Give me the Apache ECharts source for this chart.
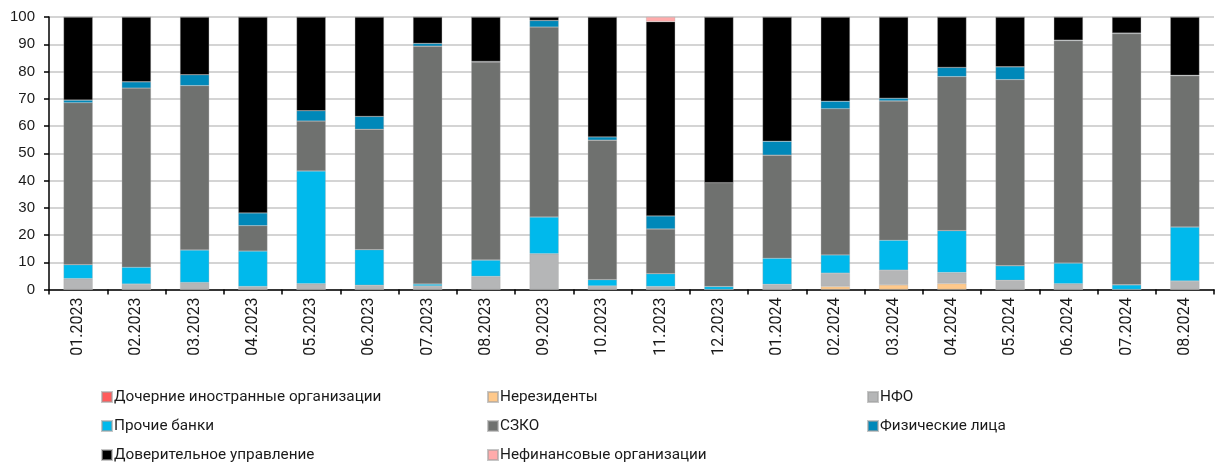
<!DOCTYPE html>
<html>
<head>
<meta charset="utf-8">
<script src="https://cdn.jsdelivr.net/npm/echarts@6/dist/echarts.min.js"></script>
<style>
  html, body { margin: 0; padding: 0; background: #fff; }
  #chart { width: 1216px; height: 463px; }
</style>
</head>
<body>
<div id="chart"></div>
<script>
// Monthly structure of holders, % of total
const categories = ['01.2023','02.2023','03.2023','04.2023','05.2023','06.2023','07.2023','08.2023','09.2023','10.2023','11.2023','12.2023',
                    '01.2024','02.2024','03.2024','04.2024','05.2024','06.2024','07.2024','08.2024'];

const subsidiariesForeign = [0,0,0,0,0,0,0,0,0,0,0,0,0,0,0,0,0,0,0,0];
const nonResidents        = [0,0,0,0,0,0,0,0,0,0,0,0,0,1.1,1.7,2.2,0,0,0,0];
const nfo                 = [4.0,2.0,2.6,1.1,2.1,1.6,1.3,4.8,13.1,1.3,1.1,0,1.9,4.9,5.4,4.0,3.4,2.1,0,3.1];
const otherBanks          = [5.1,6.2,11.9,13.0,41.4,13.0,0.7,6.0,13.5,2.3,4.7,1.1,9.6,6.7,11.0,15.4,5.3,7.6,1.7,19.8];
const szko                = [59.4,65.7,60.3,9.3,18.3,44.2,87.3,72.7,69.7,51.2,16.4,38.1,37.8,53.6,51.1,56.5,68.3,81.6,92.2,55.5];
const individuals         = [1.0,2.3,4.0,4.7,3.8,4.7,1.0,0.2,2.4,1.2,4.8,0,5.1,2.8,1.0,3.4,4.7,0.2,0.2,0.2];
const trustManagement     = [30.5,23.8,21.2,71.9,34.4,36.5,9.7,16.3,1.3,44.0,71.3,60.8,45.6,30.9,29.8,18.5,18.3,8.5,5.9,21.4];
const nonFinancial        = [0,0,0,0,0,0,0,0,0,0,1.7,0,0,0,0,0,0,0,0,0];

const yTicks = [0,10,20,30,40,50,60,70,80,90,100];

const seriesDefs = [
  { name: 'Дочерние иностранные организации', data: subsidiariesForeign, color: '#ff5b5b' },
  { name: 'Нерезиденты',                      data: nonResidents,        color: '#ffc98b' },
  { name: 'НФО',                              data: nfo,                 color: '#b5b6b7' },
  { name: 'Прочие банки',                     data: otherBanks,          color: '#00b9ec' },
  { name: 'СЗКО',                             data: szko,                color: '#6f716f' },
  { name: 'Физические лица',                  data: individuals,         color: '#0088b9' },
  { name: 'Доверительное управление',         data: trustManagement,     color: '#000000' },
  { name: 'Нефинансовые организации',         data: nonFinancial,        color: '#ffabab' }
];

// Legend laid out as a 3-column grid: [name, column, row]
const legendCols = [101, 487, 867];
const legendRows = [397, 426, 455];
const legendCells = [
  ['Дочерние иностранные организации', 0, 0],
  ['Нерезиденты', 1, 0],
  ['НФО', 2, 0],
  ['Прочие банки', 0, 1],
  ['СЗКО', 1, 1],
  ['Физические лица', 2, 1],
  ['Доверительное управление', 0, 2],
  ['Нефинансовые организации', 1, 2]
];

const FONT = 'Roboto, "Liberation Sans", sans-serif';

const legends = legendCells.map(([name, c, r]) => ({
  left: legendCols[c],
  top: legendRows[r] - 9,
  padding: 0,
  itemWidth: 10,
  itemHeight: 10,
  icon: 'rect',
  selectedMode: false,
  data: [name],
  textStyle: { fontFamily: FONT, fontSize: 15.3, color: '#1a1a1a', lineHeight: 18, padding: [0, 0, 0, -3] }
}));

const chart = echarts.init(document.getElementById('chart'), null, { renderer: 'canvas' });

chart.setOption({
  animation: false,
  backgroundColor: '#ffffff',
  grid: { left: 49, right: 2, top: 17, bottom: 173.5, containLabel: false },
  legend: legends,
  xAxis: {
    type: 'category',
    data: categories,
    boundaryGap: true,
    axisLine: { lineStyle: { color: '#000', width: 1.5 } },
    axisTick: { show: true, alignWithLabel: false, length: 5, lineStyle: { color: '#000', width: 1.5 } },
    axisLabel: { rotate: 90, fontFamily: FONT, fontSize: 16, color: '#1a1a1a', margin: 8 },
    splitLine: { show: false }
  },
  yAxis: {
    type: 'value',
    min: yTicks[0],
    max: yTicks[yTicks.length - 1],
    interval: 10,
    axisLine: { show: true, lineStyle: { color: '#000', width: 1.5 } },
    axisTick: { show: true, length: 5, lineStyle: { color: '#000', width: 1.5 } },
    axisLabel: { fontFamily: '"Liberation Sans", Arial, sans-serif', fontSize: 15, color: '#1a1a1a', margin: 14 },
    splitLine: { show: true, lineStyle: { color: '#c6c6c6', width: 1.5 } }
  },
  series: seriesDefs.map(s => ({
    name: s.name,
    type: 'bar',
    stack: 'total',
    data: s.data,
    barWidth: '50%',
    itemStyle: { color: s.color, borderColor: 'rgba(160,160,160,0.6)', borderWidth: 0.5 },
    emphasis: { disabled: true }
  }))
});
</script>
</body>
</html>
